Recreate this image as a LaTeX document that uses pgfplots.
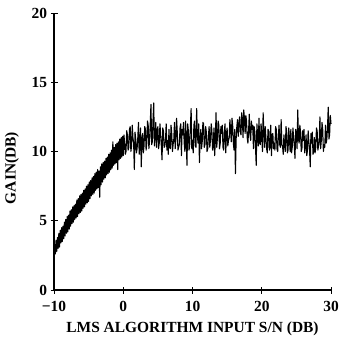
\documentclass[border=0pt]{standalone}
\usepackage{fontspec}
\setmainfont{Liberation Serif}
\usepackage{pgfplots}
\pgfplotsset{compat=1.18}
\begin{document}
\begin{tikzpicture}
\begin{axis}[
  scale only axis, width=277bp, height=277bp,
  xmin=-10, xmax=30, ymin=0, ymax=20,
  axis x line=bottom, axis y line=left,
  axis line style={-, line width=1.2bp},
  xtick={-10,0,10,20,30}, xticklabels={−10,0,10,20,30},
  ytick={0,5,10,15,20}, yticklabels={0,5,10,15,20},
  tick align=center, major tick length=7bp,
  tick style={line width=1bp, black},
  font=\fontsize{15.5}{18}\selectfont\bfseries,
  xticklabel style={yshift=-4bp},
  xlabel={LMS ALGORITHM INPUT S/N (DB)},
  ylabel={GAIN(DB)},
  every axis y label/.style={at={(axis description cs:-0.152,0.44)}, rotate=90, anchor=center},
  every axis x label/.style={at={(axis description cs:0.5,0)}, anchor=base, yshift=-42bp},
  clip=false,
]
\coordinate (ll) at (rel axis cs:0,0);
\coordinate (ur) at (rel axis cs:1,1);
\addplot[black, line width=1.1bp, line join=round] coordinates {
(-10,0) (-9.95,2.5) (-9.9,3.3) (-9.8,2.6) (-9.7,3.6) (-9.6,2.8) (-9.5,3.8) (-9.4,3.0) (-9.3,4.1) (-9.2,3.1) (-9.1,4.3)
(-9.0,3.4) (-8.9,4.5) (-8.8,3.5) (-8.7,4.6) (-8.6,3.7) (-8.5,4.9) (-8.4,3.9) (-8.3,5.1) (-8.2,4.1) (-8.1,5.3)
(-8.0,4.2) (-7.9,5.4) (-7.8,4.4) (-7.7,5.7) (-7.6,4.6) (-7.5,5.8) (-7.4,4.8) (-7.3,6.0) (-7.2,4.9) (-7.1,6.1)
(-7.0,5.1) (-6.9,6.2) (-6.8,5.2) (-6.7,6.5) (-6.6,5.3) (-6.5,6.6) (-6.4,5.5) (-6.3,6.8) (-6.2,5.6) (-6.1,6.9)
(-6.0,5.7) (-5.9,7.0) (-5.8,5.9) (-5.7,7.2) (-5.6,6.0) (-5.5,7.3) (-5.4,6.2) (-5.3,7.5) (-5.2,6.3) (-5.1,7.6)
(-5.0,6.4) (-4.9,7.8) (-4.8,6.6) (-4.7,7.9) (-4.6,6.8) (-4.5,8.1) (-4.4,6.9) (-4.3,8.2) (-4.2,7.0) (-4.1,8.4)
(-4.0,7.2) (-3.9,8.5) (-3.8,7.3) (-3.7,8.7) (-3.6,7.4) (-3.5,8.6) (-3.4,6.7) (-3.3,8.9) (-3.2,7.6) (-3.1,9.1)
(-3.0,7.8) (-2.9,9.2) (-2.8,8.0) (-2.7,9.3) (-2.6,8.1) (-2.5,9.5) (-2.4,8.3) (-2.3,9.6) (-2.2,8.4) (-2.1,9.8)
(-2.0,8.5) (-1.9,9.9) (-1.8,8.7) (-1.7,10.1) (-1.6,8.8) (-1.5,10.7) (-1.4,9.0) (-1.3,10.3) (-1.2,9.1) (-1.1,10.5)
(-1.0,9.2) (-0.9,10.6) (-0.8,8.7) (-0.7,10.7) (-0.6,9.4) (-0.5,10.9) (-0.4,9.5) (-0.3,11.0) (-0.2,9.6) (-0.1,11.1)
(0.0,9.7) (0.1,11.2) (0.2,10.6) (0.3,9.8) (0.4,10.0) (0.5,11.5) (0.6,11.2) (0.7,10.1) (0.8,10.3) (0.9,11.6)
(1.0,11.8) (1.1,10.0) (1.2,10.4) (1.3,11.9) (1.4,11.0) (1.5,10.6) (1.6,8.7) (1.7,11.4) (1.8,10.9) (1.9,9.9)
(2.0,10.2) (2.1,11.0) (2.2,12.1) (2.3,9.8) (2.4,10.5) (2.5,11.7) (2.6,8.9) (2.7,10.8) (2.8,11.3) (2.9,9.9)
(3.0,10.4) (3.1,11.8) (3.2,11.6) (3.3,10.1) (3.4,10.6) (3.5,12.2) (3.6,11.9) (3.7,10.2) (3.8,10.8) (3.9,12.0)
(4.0,13.4) (4.1,10.5) (4.2,10.7) (4.3,12.3) (4.4,13.5) (4.5,10.4) (4.6,11.0) (4.7,12.1) (4.8,10.3) (4.9,11.5)
(5.0,11.8) (5.1,10.2) (5.2,10.6) (5.3,12.0) (5.4,11.2) (5.5,10.4) (5.6,9.4) (5.7,11.7) (5.8,11.5) (5.9,10.3)
(6.0,10.4) (6.1,10.8) (6.2,12.0) (6.3,10.1) (6.4,10.8) (6.5,9.8) (6.6,11.6) (6.7,10.3) (6.8,10.2) (6.9,11.9)
(7.0,11.3) (7.1,10.0) (7.2,10.5) (7.3,10.9) (7.4,12.1) (7.5,10.2) (7.6,10.9) (7.7,12.4) (7.8,11.4) (7.9,10.1)
(8.0,10.3) (8.1,10.5) (8.2,11.7) (8.3,12.0) (8.4,9.7) (8.5,11.6) (8.6,11.2) (8.7,12.1) (8.8,10.6) (8.9,10.0)
(9.0,12.2) (9.1,10.8) (9.2,9.0) (9.3,12.0) (9.4,11.5) (9.5,10.1) (9.6,10.5) (9.7,11.8) (9.8,13.1) (9.9,10.2)
(10.0,10.8) (10.1,9.9) (10.2,11.9) (10.3,12.2) (10.4,10.4) (10.5,10.3) (10.6,13.1) (10.7,11.2) (10.8,10.6) (10.9,12.0)
(11.0,9.2) (11.1,11.0) (11.2,11.6) (11.3,10.2) (11.4,10.7) (11.5,12.1) (11.6,12.0) (11.7,10.3) (11.8,10.5) (11.9,11.8)
(12.0,11.4) (12.1,10.0) (12.2,10.2) (12.3,11.1) (12.4,11.8) (12.5,10.3) (12.6,10.9) (12.7,12.0) (12.8,11.5) (12.9,10.1)
(13.0,10.4) (13.1,11.7) (13.2,9.7) (13.3,10.8) (13.4,12.8) (13.5,10.3) (13.6,11.0) (13.7,12.2) (13.8,11.9) (13.9,10.2)
(14.0,10.6) (14.1,11.8) (14.2,11.3) (14.3,11.9) (14.4,10.3) (14.5,10.1) (14.6,11.5) (14.7,12.0) (14.8,9.9) (14.9,11.2)
(15.0,11.7) (15.1,10.4) (15.2,10.8) (15.3,11.0) (15.4,12.3) (15.5,11.5) (15.6,10.7) (15.7,12.4) (15.8,11.9) (15.9,10.6)
(16.0,10.1) (16.1,11.6) (16.2,8.4) (16.3,10.9) (16.4,11.8) (16.5,12.3) (16.6,11.1) (16.7,12.0) (16.8,12.5) (16.9,11.4)
(17.0,11.2) (17.1,12.8) (17.2,12.4) (17.3,11.0) (17.4,13.0) (17.5,12.4) (17.6,11.3) (17.7,12.6) (17.8,12.2) (17.9,11.0)
(18.0,10.6) (18.1,11.5) (18.2,12.7) (18.3,11.2) (18.4,10.8) (18.5,12.2) (18.6,11.6) (18.7,11.9) (18.8,10.2) (18.9,11.8)
(19.0,11.4) (19.1,10.3) (19.2,9.0) (19.3,12.0) (19.4,11.1) (19.5,10.4) (19.6,12.4) (19.7,10.6) (19.8,10.5) (19.9,12.0)
(20.0,11.2) (20.1,10.0) (20.2,12.8) (20.3,11.4) (20.4,10.3) (20.5,11.8) (20.6,11.0) (20.7,10.2) (20.8,9.9) (20.9,11.6)
(21.0,11.5) (21.1,10.1) (21.2,10.4) (21.3,11.9) (21.4,9.7) (21.5,11.2) (21.6,11.3) (21.7,10.2) (21.8,10.6) (21.9,10.1)
(22.0,11.8) (22.1,11.6) (22.2,10.2) (22.3,10.0) (22.4,11.1) (22.5,11.9) (22.6,10.5) (22.7,10.3) (22.8,12.3) (22.9,10.5)
(23.0,10.4) (23.1,9.8) (23.2,11.2) (23.3,10.4) (23.4,10.0) (23.5,11.8) (23.6,11.4) (23.7,9.9) (23.8,10.1) (23.9,11.7)
(24.0,10.9) (24.1,10.0) (24.2,11.6) (24.3,9.9) (24.4,10.3) (24.5,11.7) (24.6,11.0) (24.7,10.4) (24.8,9.5) (24.9,11.6)
(25.0,11.3) (25.1,10.2) (25.2,13.0) (25.3,10.9) (25.4,10.6) (25.5,11.9) (25.6,11.4) (25.7,10.0) (25.8,10.2) (25.9,11.5)
(26.0,10.8) (26.1,11.6) (26.2,9.9) (26.3,10.3) (26.4,11.2) (26.5,9.7) (26.6,10.1) (26.7,11.5) (26.8,10.7) (26.9,10.2)
(27.0,8.9) (27.1,11.3) (27.2,10.6) (27.3,11.4) (27.4,9.8) (27.5,10.0) (27.6,11.0) (27.7,9.9) (27.8,10.3) (27.9,11.7)
(28.0,11.5) (28.1,10.1) (28.2,10.4) (28.3,10.8) (28.4,12.5) (28.5,10.2) (28.6,10.8) (28.7,12.1) (28.8,11.6) (28.9,10.0)
(29.0,10.5) (29.1,10.3) (29.2,11.9) (29.3,10.6) (29.4,10.9) (29.5,11.8) (29.6,13.2) (29.7,10.9) (29.8,11.2) (29.9,12.6)
(30.0,12.0)
};
\end{axis}
\pgfresetboundingbox
\path ([shift={(-54bp,-47bp)}]ll) rectangle ([shift={(8bp,13bp)}]ur);
\end{tikzpicture}
\end{document}
